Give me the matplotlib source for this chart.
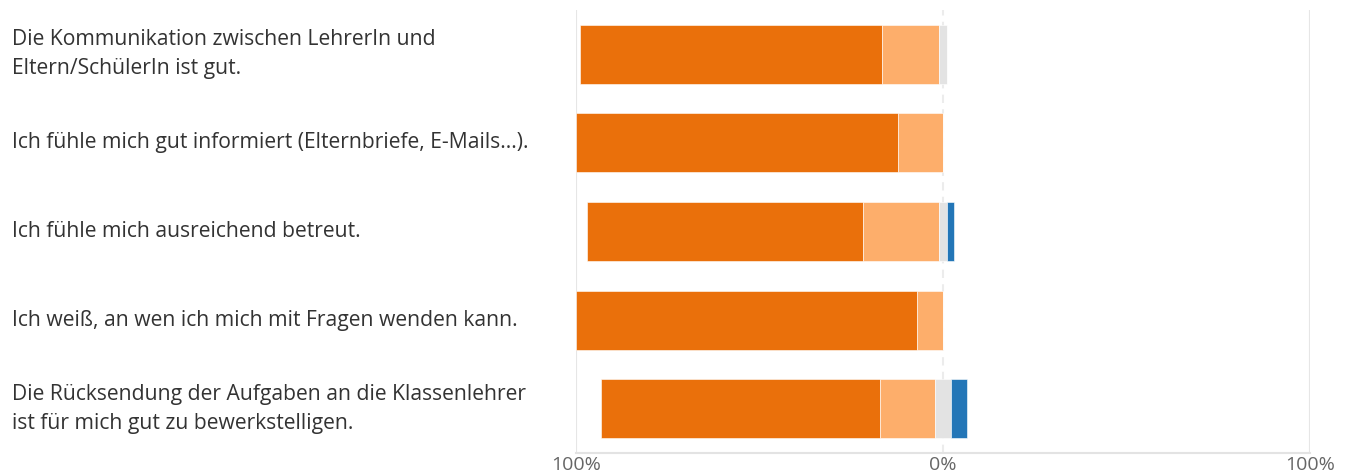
import matplotlib.pyplot as plt
import matplotlib.transforms as mtransforms
import numpy as np

plt.rcParams['font.family'] = ['Open Sans', 'DejaVu Sans']

statements = [
    "Die Kommunikation zwischen LehrerIn und\nEltern/SchülerIn ist gut.",
    "Ich fühle mich gut informiert (Elternbriefe, E-Mails...).",
    "Ich fühle mich ausreichend betreut.",
    "Ich weiß, an wen ich mich mit Fragen wenden kann.",
    "Die Rücksendung der Aufgaben an die Klassenlehrer\nist für mich gut zu bewerkstelligen.",
]
# percent of answers per statement
strongly_agree = [82.2, 87.7, 75.1, 93.0, 75.9]
agree          = [15.7, 12.3, 20.8, 7.0, 15.1]
neutral        = [2.1, 0.0, 2.1, 0.0, 4.2]
disagree       = [0.0, 0.0, 2.0, 0.0, 4.4]

tick_pos = [-100, 0, 100]
tick_labels = ["100%", "0%", "100%"]

c_dark = "#ea700b"
c_light = "#fdae6b"
c_gray = "#e3e3e3"
c_blue = "#2376b7"

sa = np.array(strongly_agree)
ag = np.array(agree)
ne = np.array(neutral)
di = np.array(disagree)
y = np.arange(len(statements))

fig = plt.figure(figsize=(13.52, 4.76), dpi=100)
ax = fig.add_axes([576 / 1352, 1 - 453 / 476, (1310 - 576) / 1352, (453 - 10) / 476])

h = 0.667
start = -(sa + ag + ne / 2)
kw = dict(height=h, edgecolor="white", linewidth=0.4, zorder=3)
ax.barh(y, sa, left=start, color=c_dark, **kw)
ax.barh(y, ag, left=start + sa, color=c_light, **kw)
ax.barh(y, ne, left=-ne / 2, color=c_gray, **kw)
ax.barh(y, di, left=ne / 2, color=c_blue, **kw)

ax.set_xlim(-100, 100)
ax.set_ylim(len(statements) - 0.5, -0.5)

ax.axvline(-100, color="#e6e6e6", lw=1.5, zorder=1)
ax.axvline(100, color="#e6e6e6", lw=1.5, zorder=1)
ax.axvline(0, color="#ececec", lw=1.5, ls=(0, (4, 3)), zorder=1)

for s in ["top", "right", "left"]:
    ax.spines[s].set_visible(False)
ax.spines["bottom"].set_color("#e3e3e3")
ax.spines["bottom"].set_linewidth(1.5)

ax.set_yticks([])
ax.set_xticks(tick_pos)
ax.set_xticklabels(tick_labels, fontsize=14, color="#666666")
ax.tick_params(axis="x", length=0, pad=2)

trans = mtransforms.blended_transform_factory(fig.transFigure, ax.transData)
for i, s in enumerate(statements):
    ax.text(12 / 1352, i, s, transform=trans, ha="left", va="center",
            fontsize=15.2, color="#333333", linespacing=1.52)

plt.savefig("out.png", dpi=100)
